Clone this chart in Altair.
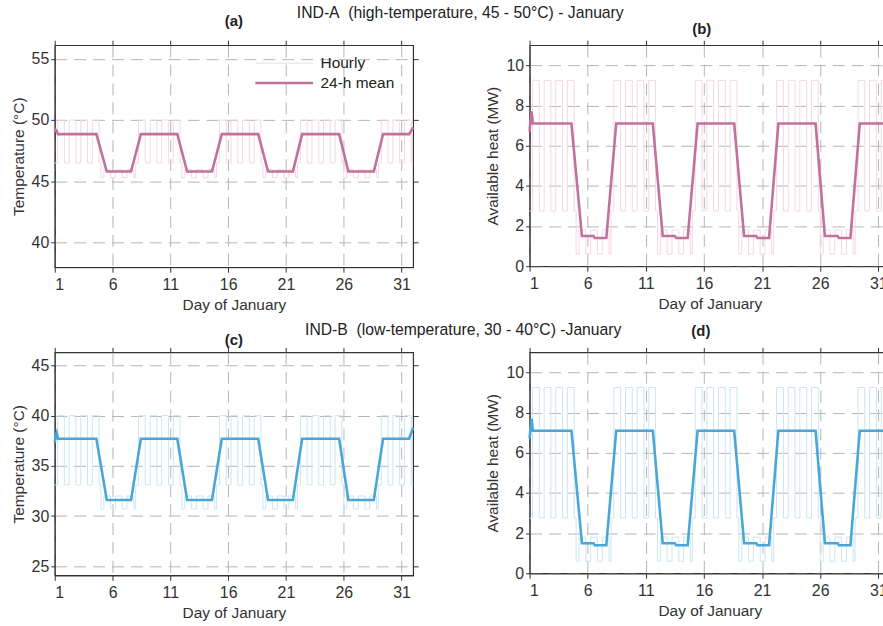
import altair as alt
import pandas as pd

# ---------------- data ----------------
# Day type for each day of January (H = working / high load, L = low load)
DAY_TYPE = ["H", "H", "H", "H", "L", "L", "L",
            "H", "H", "H", "H", "L", "L", "L",
            "H", "H", "H", "H", "L", "L", "L",
            "H", "H", "H", "H", "L", "L", "L",
            "H", "H", "H"]
ON_HOUR = 6     # hourly value switches to the "day" level
OFF_HOUR = 20   # hourly value switches back to the "night" level

LEVELS_A = {"H_day": 50.0, "H_night": 46.5, "L_day": 45.95, "L_night": 45.3}
LEVELS_B = {"H_day": 9.25, "H_night": 2.75, "L_day": 1.8, "L_night": 0.6}
LEVELS_C = {"H_day": 40.0, "H_night": 33.1, "L_day": 32.0, "L_night": 30.7}
LEVELS_D = {"H_day": 9.25, "H_night": 2.75, "L_day": 1.8, "L_night": 0.6}

# 24-h mean: breakpoints (day) and values per panel
MEAN_DAYS = [1.0, 1.08, 1.17, 1.28, 4.6, 5.5, 6.5, 6.6, 7.6, 8.45,
             11.6, 12.45, 13.5, 13.6, 14.6, 15.45, 18.6, 19.45, 20.5, 20.6,
             21.6, 22.4, 25.6, 26.4, 27.5, 27.6, 28.6, 29.4, 31.65, 32.0]
MEAN_A = [49.0, 49.2, 49.1, 48.85, 48.85, 45.8, 45.8, 45.8, 45.8, 48.85,
          48.85, 45.8, 45.8, 45.8, 45.8, 48.85, 48.85, 45.8, 45.8, 45.8,
          45.8, 48.85, 48.85, 45.8, 45.8, 45.8, 45.8, 48.85, 48.85, 49.4]
MEAN_B = [6.7, 7.3, 7.7, 7.1, 7.1, 1.5, 1.5, 1.4, 1.4, 7.1,
          7.1, 1.5, 1.5, 1.4, 1.4, 7.1, 7.1, 1.5, 1.5, 1.4,
          1.4, 7.1, 7.1, 1.5, 1.5, 1.4, 1.4, 7.1, 7.1, 7.1]
MEAN_C = [37.3, 38.0, 38.3, 37.7, 37.7, 31.6, 31.6, 31.6, 31.6, 37.7,
          37.7, 31.6, 31.6, 31.6, 31.6, 37.7, 37.7, 31.6, 31.6, 31.6,
          31.6, 37.7, 37.7, 31.6, 31.6, 31.6, 31.6, 37.7, 37.7, 38.8]
MEAN_D = [6.7, 7.3, 7.7, 7.1, 7.1, 1.5, 1.5, 1.4, 1.4, 7.1,
          7.1, 1.5, 1.5, 1.4, 1.4, 7.1, 7.1, 1.5, 1.5, 1.4,
          1.4, 7.1, 7.1, 1.5, 1.5, 1.4, 1.4, 7.1, 7.1, 7.1]

X_TICKS = [1, 6, 11, 16, 21, 26, 31]
SERIES = ["Hourly", "24-h mean"]

PINK = ["#f3d8e6", "#c2709c"]
BLUE = ["#cbe6f3", "#4aa6d8"]

FONT = "Liberation Sans"


def hourly_df(levels):
    rows = []
    for i, t in enumerate(DAY_TYPE):
        d = i + 1
        rows.append({"day": d, "value": levels[t + "_night"]})
        rows.append({"day": d + ON_HOUR / 24, "value": levels[t + "_day"]})
        rows.append({"day": d + OFF_HOUR / 24, "value": levels[t + "_night"]})
    rows.append({"day": 32, "value": levels[DAY_TYPE[-1] + "_night"]})
    df = pd.DataFrame(rows)
    df["series"] = "Hourly"
    return df


def mean_df(values):
    df = pd.DataFrame({"day": MEAN_DAYS, "value": values})
    df["series"] = "24-h mean"
    return df


def panel(levels, means, ydomain, yticks, ytitle, colors, title, toff, tdx,
          width, height, show_legend):
    xs = alt.Scale(domain=[1, 32], nice=False, zero=False)
    ys = alt.Scale(domain=ydomain, nice=False, zero=False)
    if show_legend:
        leg = alt.Legend(title=None, orient="none", legendX=200, legendY=8,
                         symbolType="stroke", symbolSize=3364, clipHeight=20,
                         labelFont=FONT, labelFontSize=15.5, labelColor="#222",
                         labelOffset=6, rowPadding=0, padding=0,
                         symbolStrokeWidth=3)
    else:
        leg = None
    color = alt.Color("series:N", scale=alt.Scale(domain=SERIES, range=colors),
                      legend=leg)
    sw = alt.StrokeWidth("series:N", scale=alt.Scale(domain=SERIES, range=[1.0, 2.6]),
                         legend=leg)
    xaxis = alt.Axis(values=X_TICKS, format="d", title="Day of January",
                     grid=True, labelPadding=4, titlePadding=5, tickSize=5)
    yaxis = alt.Axis(values=yticks, format="d", title=ytitle, grid=True,
                     labelPadding=2, titlePadding=5, tickSize=4)
    h = alt.Chart(hourly_df(levels)).mark_line(interpolate="step-after").encode(
        x=alt.X("day:Q", scale=xs, axis=xaxis),
        y=alt.Y("value:Q", scale=ys, axis=yaxis),
        color=color, strokeWidth=sw,
    )
    m = alt.Chart(mean_df(means)).mark_line(interpolate="linear").encode(
        x=alt.X("day:Q", scale=xs, axis=None),
        y=alt.Y("value:Q", scale=ys, axis=None),
        color=color, strokeWidth=sw,
    )
    frame = alt.Chart(mean_df(means)).mark_line(opacity=0).encode(
        x=alt.X("day:Q", scale=xs,
                axis=alt.Axis(orient="top", values=X_TICKS, labels=False, title=None,
                              grid=False, domain=False, tickSize=5)),
        y=alt.Y("value:Q", scale=ys,
                axis=alt.Axis(orient="right", values=yticks, labels=False, title=None,
                              grid=False, domain=False, tickSize=5)),
    )
    return alt.layer(h, m, frame).resolve_axis(x="independent", y="independent").properties(
        width=width, height=height,
        title=alt.TitleParams(title, font=FONT, fontSize=15, fontWeight="bold",
                              color="#222", offset=toff, dx=tdx),
    )


pa = panel(LEVELS_A, MEAN_A, [38, 56.1], [40, 45, 50, 55], "Temperature (°C)",
           PINK, "(a)", 11, 0, 360, 223, True)
pb = panel(LEVELS_B, MEAN_B, [0, 11.0], [0, 2, 4, 6, 8, 10], "Available heat (MW)",
           PINK, "(b)", 3, -8, 362, 222, False)
pc = panel(LEVELS_C, MEAN_C, [24.1, 46.3], [25, 30, 35, 40, 45], "Temperature (°C)",
           BLUE, "(c)", -1, 0, 360, 224, False)
pd_ = panel(LEVELS_D, MEAN_D, [0, 11.0], [0, 2, 4, 6, 8, 10], "Available heat (MW)",
            BLUE, "(d)", 7.5, -9, 362, 222, False)

row1 = alt.hconcat(pa, pb, spacing=65,
                   title=alt.TitleParams("IND-A\u00a0 (high-temperature, 45 - 50°C) - January",
                                         font=FONT, fontSize=15.8, fontWeight="normal",
                                         color="#222", offset=-9, anchor="middle", dx=7)
                   ).resolve_scale(color="independent", strokeWidth="independent")
row2 = alt.hconcat(pc, pd_, spacing=65,
                   title=alt.TitleParams("IND-B\u00a0 (low-temperature, 30 - 40°C) -January",
                                         font=FONT, fontSize=15.8, fontWeight="normal",
                                         color="#222", offset=-15.5, anchor="middle", dx=10)
                   ).resolve_scale(color="independent", strokeWidth="independent")

chart = alt.vconcat(row1, row2, spacing=8.5).resolve_scale(
    color="independent", strokeWidth="independent"
).properties(
    padding={"left": 10, "top": 4, "right": -14, "bottom": 0},
    background="white",
).configure_axis(
    labelFont=FONT, labelFontSize=16, labelColor="#333",
    titleFont=FONT, titleFontSize=15.5, titleFontWeight="normal", titleColor="#333",
    domainColor="#333", tickColor="#333", domainWidth=1, tickWidth=1,
    gridColor="#b5b5b5", gridDash=[12, 7], gridWidth=1,
).configure_view(stroke="#333", strokeWidth=1.2)

chart.save("out.html", embed_options={"renderer": "svg", "actions": False})
